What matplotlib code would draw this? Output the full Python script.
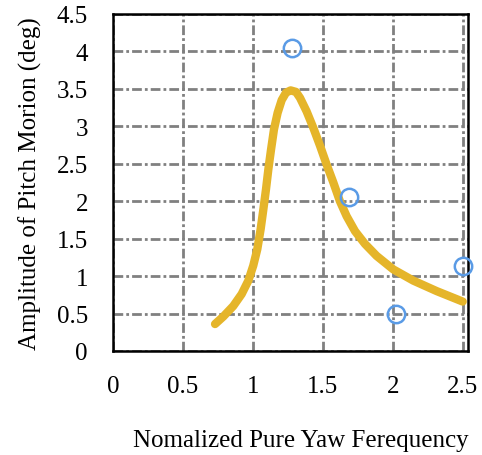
import matplotlib
matplotlib.use("Agg")
import matplotlib.pyplot as plt

# data
curve_x = [0.729, 0.788, 0.859, 0.919, 0.967, 1.002, 1.031, 1.055, 1.074, 1.093,
           1.110, 1.129, 1.150, 1.176, 1.205, 1.236, 1.269, 1.307, 1.336, 1.383,
           1.431, 1.479, 1.526, 1.574, 1.621, 1.669, 1.729, 1.800, 1.883, 2.002,
           2.145, 2.312, 2.498]
curve_y = [0.36, 0.46, 0.60, 0.76, 0.94, 1.14, 1.36, 1.63, 1.89, 2.16,
           2.43, 2.69, 2.96, 3.18, 3.35, 3.45, 3.48, 3.46, 3.38, 3.20,
           2.98, 2.74, 2.49, 2.25, 2.00, 1.80, 1.60, 1.43, 1.27, 1.09,
           0.94, 0.80, 0.66]
pts_x = [1.276, 1.686, 2.019, 2.498]
pts_y = [4.05, 2.05, 0.50, 1.13]
xticks = [0, 0.5, 1, 1.5, 2, 2.5]
xtick_labels = ["0", "0.5", "1", "1.5", "2", "2.5"]
yticks = [0, 0.5, 1, 1.5, 2, 2.5, 3, 3.5, 4, 4.5]
ytick_labels = ["0", "0.5", "1", "1.5", "2", "2.5", "3", "3.5", "4", "4.5"]

plt.rcParams['font.family'] = ['Liberation Serif', 'DejaVu Serif']
plt.rcParams['lines.scale_dashes'] = False

fig = plt.figure(figsize=(4.82, 4.56), dpi=100)
ax = fig.add_axes([113/482, 1-352/456, (468-113)/482, (352-15)/456])

ax.set_xlim(0, 2.536)
ax.set_ylim(0, 4.5)
ax.set_xticks(xticks)
ax.set_xticklabels(xtick_labels)
ax.set_yticks(yticks)
ax.set_yticklabels(ytick_labels)
ax.tick_params(axis='both', length=0, labelsize=18, colors='black')
ax.tick_params(axis='x', pad=17)
ax.tick_params(axis='y', pad=18)

ax.grid(True, color='#808080', linewidth=2.0, linestyle=(0, (7, 2.2, 2, 2.2)))
ax.set_axisbelow(True)

for s in ax.spines.values():
    s.set_linewidth(1.8)
    s.set_color('black')

ax.plot(curve_x, curve_y, color='#E5B52A', linewidth=6, solid_capstyle='round',
        solid_joinstyle='round', zorder=3)
ax.plot(pts_x, pts_y, linestyle='none', marker='o', markersize=12.5,
        markerfacecolor='none', markeredgecolor='#5A9BE6', markeredgewidth=1.8,
        zorder=4, clip_on=False)

fig.text(301/482, 1-441/456, "Nomalized Pure Yaw Ferequency", ha='center', va='center',
         fontsize=18)
fig.text(30/482, 1-184/456, "Amplitude of Pitch Morion (deg)", ha='center', va='center',
         rotation=90, fontsize=18)

fig.savefig("out.png", dpi=100)
